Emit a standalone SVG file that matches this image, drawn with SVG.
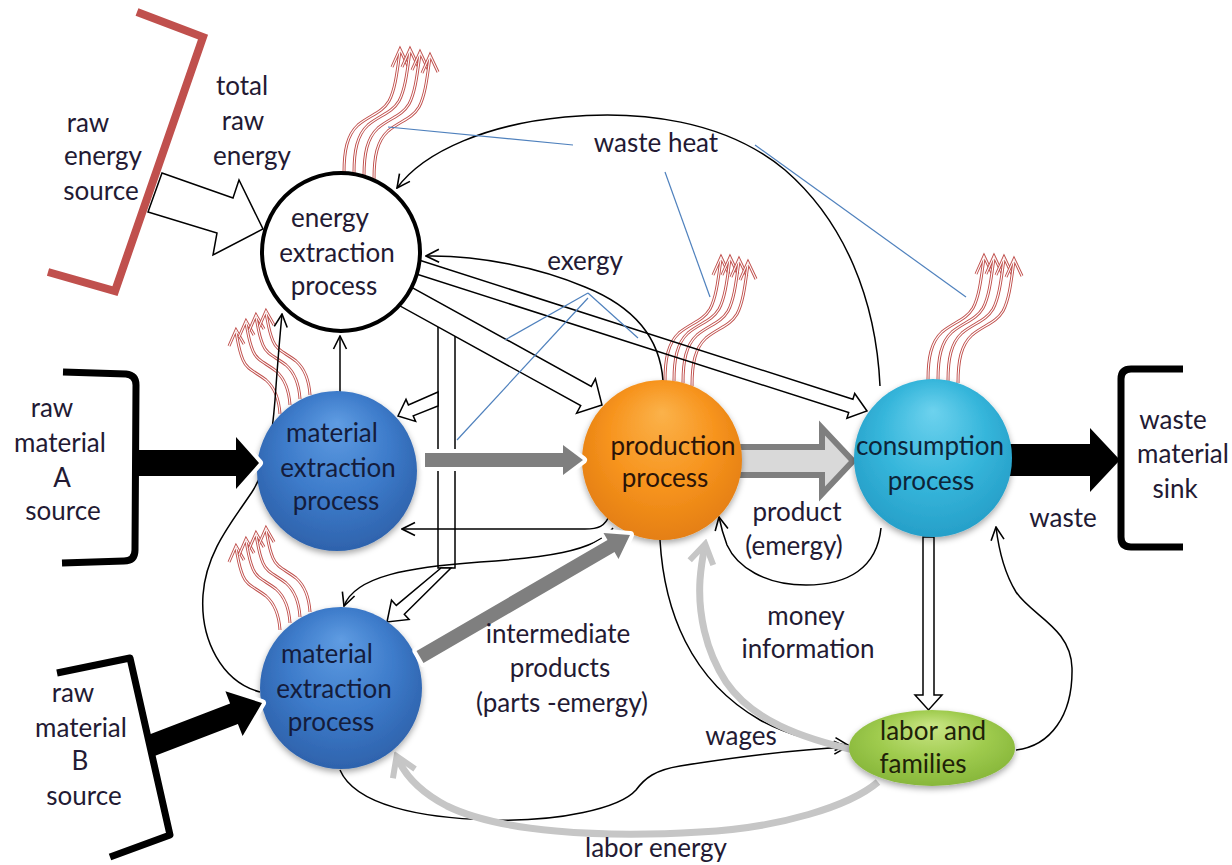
<svg xmlns="http://www.w3.org/2000/svg" width="1232" height="865" viewBox="0 0 1232 865">
<defs>
<style>
.t{font-family:Lato,"Open Sans","Liberation Sans",sans-serif;font-size:26px;fill:#231a33;text-anchor:middle}
.tb{fill:#141c3c}.to{fill:#2b1408}.tc{fill:#0d2438}.tg{fill:#1e2208}
.ln{fill:none;stroke:#000;stroke-width:1.5}
.bl{fill:none;stroke:#4f81bd;stroke-width:1.2}
.ho{fill:none;stroke:#000;stroke-width:1.5;stroke-linejoin:miter}
.wr{fill:none;stroke:#c0504d;stroke-width:3}
.ww{fill:none;stroke:#fff;stroke-width:1.1}
.gc{fill:none;stroke:#c6c6c6;stroke-width:7}
.br{fill:none;stroke:#000;stroke-width:7;stroke-linejoin:round}
.glow{stroke:#fff;stroke-width:8;stroke-linejoin:round;paint-order:stroke}
</style>
<marker id="oa" viewBox="0 0 16 16" refX="15" refY="8" markerWidth="16" markerHeight="16" markerUnits="userSpaceOnUse" orient="auto"><path d="M2,1.5 L15,8 L2,14.5" fill="none" stroke="#000" stroke-width="1.6"/></marker>
<marker id="ga" viewBox="0 0 30 30" refX="24" refY="15" markerWidth="30" markerHeight="30" markerUnits="userSpaceOnUse" orient="auto"><path d="M6,3 L25,15 L6,27" fill="none" stroke="#c6c6c6" stroke-width="6"/></marker>
<radialGradient id="gBlue" cx="0.5" cy="0.45" r="0.6" fx="0.5" fy="0.2"><stop offset="0" stop-color="#5f9ce2"/><stop offset="0.55" stop-color="#3d7bca"/><stop offset="1" stop-color="#2c5fa8"/></radialGradient>
<radialGradient id="gOrange" cx="0.5" cy="0.45" r="0.6" fx="0.5" fy="0.2"><stop offset="0" stop-color="#fbb24a"/><stop offset="0.55" stop-color="#f7941e"/><stop offset="1" stop-color="#e27c10"/></radialGradient>
<radialGradient id="gCyan" cx="0.5" cy="0.45" r="0.6" fx="0.5" fy="0.2"><stop offset="0" stop-color="#6dd2ee"/><stop offset="0.55" stop-color="#36b6db"/><stop offset="1" stop-color="#249cc6"/></radialGradient>
<radialGradient id="gGreen" cx="0.5" cy="0.45" r="0.6" fx="0.5" fy="0.2"><stop offset="0" stop-color="#c9e585"/><stop offset="0.55" stop-color="#9fcb4e"/><stop offset="1" stop-color="#84b438"/></radialGradient>
<filter id="sh" x="-20%" y="-20%" width="140%" height="150%"><feDropShadow dx="0" dy="3" stdDeviation="3" flood-color="#000" flood-opacity="0.35"/></filter>
<path id="pR" d="M0,0 C0,-22 3,-38 14,-48 C26,-58 38,-60 45,-72 C51,-83 53,-100 56,-122 M48,-106 L56,-124 L64,-107"/>
<path id="pL" d="M0,0 C-1,-15 -5,-26 -14,-34 C-24,-42 -33,-44 -37,-54 C-41,-63 -42,-72 -44,-82 M-51,-68 L-44,-84 L-36,-70"/>
<g id="wR"><use href="#pR" class="wr"/><use href="#pR" class="ww"/></g>
<g id="wL"><use href="#pL" class="wr"/><use href="#pL" class="ww"/></g>
</defs>
<rect width="1232" height="865" fill="#fff"/>

<g id="waste-heat">
<use href="#wR" transform="translate(344,173)"/><use href="#wR" transform="translate(354,173)"/><use href="#wR" transform="translate(364,176)"/><use href="#wR" transform="translate(374,179)"/>
<use href="#wR" transform="translate(665,381)"/><use href="#wR" transform="translate(674,381)"/><use href="#wR" transform="translate(683,383)"/><use href="#wR" transform="translate(692,386)"/>
<use href="#wR" transform="translate(928,380)"/><use href="#wR" transform="translate(938,380)"/><use href="#wR" transform="translate(948,381)"/><use href="#wR" transform="translate(958,383)"/>
<use href="#wL" transform="translate(280,414)"/><use href="#wL" transform="translate(290,405)"/><use href="#wL" transform="translate(300,399)"/><use href="#wL" transform="translate(310,395)"/>
<use href="#wL" transform="translate(280,630)"/><use href="#wL" transform="translate(290,623)"/><use href="#wL" transform="translate(300,617)"/><use href="#wL" transform="translate(310,612)"/>
</g>

<g id="connectors">
<path class="ln" marker-end="url(#oa)" d="M663,381 C660,335 630,305 585,287 C540,268 480,255 426,256"/>
<path class="ln" marker-end="url(#oa)" d="M880,386 C876,300 845,222 785,170 C725,120 640,110 565,117 C490,124 425,150 397,188"/>
<path class="ln" marker-end="url(#oa)" d="M610,514 C605,527 598,529 585,529 L402,529"/>
<path class="ln" marker-end="url(#oa)" d="M613,528 C596,552 540,558 480,562 C410,567 355,576 344,606"/>
<path class="ln" marker-end="url(#oa)" d="M260,692 C222,682 200,640 203,595 C206,552 232,522 252,492 C270,464 273,425 275,400 C277,372 279,345 282,314"/>
<path class="ln" marker-end="url(#oa)" d="M340,392 L340,336"/>
<path class="ln" marker-end="url(#oa)" d="M660,540 C664,610 690,680 760,720 C792,737 820,743 848,745"/>
<path class="ln" marker-end="url(#oa)" d="M881,528 C877,568 848,585 806,585 C765,585 737,567 727,545 C724,537 721,527 719,517"/>
<path class="ln" marker-end="url(#oa)" d="M1016,750 C1050,746 1073,716 1072,668 C1071,628 1032,616 1016,592 C1005,574 999,552 996,527"/>
<path class="ln" marker-end="url(#oa)" d="M340,770 C355,805 420,818 490,820 C560,822 620,808 636,790 C645,778 655,770 680,766 C730,758 790,750 847,747"/>
<path class="gc" marker-end="url(#ga)" d="M878,782 C850,806 780,828 700,832 C600,838 500,832 447,806 C422,793 405,776 397,757"/>
<path class="gc" marker-end="url(#ga)" d="M858,751 C800,738 752,720 726,682 C705,650 698,612 700,580 C701,566 703,555 705,545"/>
<polygon class="ho" points="398.6,280.1 591.3,386.4 595.4,378.9 602,405 576.6,413.1 580.7,405.6 388,299.3"/>
<polygon class="ho" points="404.1,255.3 852.9,399.2 854.7,393.5 867,411 846.9,418.3 848.7,412.6 399.9,268.7"/>
<path class="ho" d="M438,327 L438,568 L455,568 L455,336"/>
<polygon class="ho" fill="#fff" style="fill:#fff" points="438,392 408.4,404.9 406,399.4 398,416 415.6,421.4 413.2,415.9 438,406"/>
<polygon class="ho" style="fill:#fff" points="441,568 396.3,605.4 391.5,600.2 387,622 409.1,619.4 404.3,614.2 451,568"/>
<polygon class="ho" style="fill:#fff" points="923,537 923,695 915,695 928.5,710 942,695 934,695 934,537"/>
<polygon points="738,447 822,447 822,428 853,461 822,494 822,475 738,475" fill="#d9d9d9" stroke="#7f7f7f" stroke-width="6"/>
<polygon points="1008,444 1090,444 1090,428 1120,460 1090,492 1090,476 1008,476" fill="#000"/>
<line class="bl" x1="388" y1="127" x2="573" y2="145"/>
<line class="bl" x1="665" y1="172" x2="710" y2="297"/>
<line class="bl" x1="755" y1="145" x2="966" y2="297"/>
<line class="bl" x1="588" y1="293" x2="505" y2="340"/>
<line class="bl" x1="588" y1="298" x2="457" y2="440"/>
<line class="bl" x1="588" y1="293" x2="638" y2="338"/>
</g>

<g id="node-energy">
<circle cx="341" cy="252" r="79" fill="#fff" stroke="#000" stroke-width="4"/>
<text class="t" x="330" y="227">energy</text>
<text class="t" x="337" y="262">extraction</text>
<text class="t" x="334" y="295">process</text>
</g>
<g id="node-material-a">
<circle cx="337" cy="471" r="80" fill="url(#gBlue)" filter="url(#sh)"/>
<text class="t tb" x="332" y="442">material</text>
<text class="t tb" x="338" y="477">extraction</text>
<text class="t tb" x="336" y="510">process</text>
</g>
<g id="node-material-b">
<circle cx="341" cy="688" r="81" fill="url(#gBlue)" filter="url(#sh)"/>
<text class="t tb" x="327" y="663">material</text>
<text class="t tb" x="334" y="698">extraction</text>
<text class="t tb" x="331" y="731">process</text>
</g>
<g id="node-production">
<circle cx="662" cy="460" r="80" fill="url(#gOrange)" filter="url(#sh)"/>
<text class="t to" x="673" y="455">production</text>
<text class="t to" x="665" y="487">process</text>
</g>
<g id="node-consumption">
<circle cx="933" cy="458" r="79" fill="url(#gCyan)" filter="url(#sh)"/>
<text class="t tc" x="930" y="455">consumption</text>
<text class="t tc" x="931" y="490">process</text>
</g>
<g id="node-labor">
<ellipse cx="932" cy="748" rx="83" ry="38" fill="url(#gGreen)" filter="url(#sh)"/>
<text class="t tg" x="933" y="740">labor and</text>
<text class="t tg" x="923" y="773">families</text>
</g>

<g id="flow-arrows">
<polygon class="glow" points="425,453 563,453 563,445 583,460 563,475 563,467 425,467" fill="#7f7f7f"/>
<polygon class="glow" points="416.5,651 607.5,540 603.5,533 630,535 618.5,559 614.5,552 423.5,663" fill="#7f7f7f"/>
<polygon class="glow" points="137,450 236,450 236,437 259,463 236,489 236,476 137,476" fill="#000"/>
<polygon class="glow" points="146.1,735.7 230.1,703.4 225.4,691.3 262,703 242.6,736.1 237.9,724 153.9,756.3" fill="#000"/>
<polygon points="162,173 233,198 239,180 263,229 213,255 217,233 148,212" fill="#fff" stroke="#000" stroke-width="1.5"/>
</g>

<g id="sources">
<path d="M137,12 L203,37 L115,291 L48,272" fill="none" stroke="#c0504d" stroke-width="8"/>
<path class="br" d="M63,372 L126,374 Q136,375 136,385 L135,550 Q135,561 124,561 L62,563"/>
<path class="br" d="M57,673 L130,658 L170,835 L110,857"/>
<path class="br" d="M1183,369 L1131,369 Q1121,369 1121,379 L1121,537 Q1121,547 1131,547 L1183,547"/>
</g>

<g id="labels">
<text class="t" x="88" y="132">raw</text>
<text class="t" x="103" y="165">energy</text>
<text class="t" x="101" y="200">source</text>
<text class="t" x="242" y="95">total</text>
<text class="t" x="243" y="130">raw</text>
<text class="t" x="252" y="165">energy</text>
<text class="t" x="52" y="417">raw</text>
<text class="t" x="60" y="452">material</text>
<text class="t" x="62" y="487">A</text>
<text class="t" x="63" y="520">source</text>
<text class="t" x="73" y="702">raw</text>
<text class="t" x="81" y="737">material</text>
<text class="t" x="80" y="770">B</text>
<text class="t" x="84" y="805">source</text>
<text class="t" x="656" y="152">waste heat</text>
<text class="t" x="585" y="270">exergy</text>
<text class="t" x="797" y="521">product</text>
<text class="t" x="794" y="555">(emergy)</text>
<text class="t" x="806" y="625">money</text>
<text class="t" x="808" y="658">information</text>
<text class="t" x="558" y="643">intermediate</text>
<text class="t" x="560" y="677">products</text>
<text class="t" x="562" y="712">(parts -emergy)</text>
<text class="t" x="741" y="745">wages</text>
<text class="t" x="656" y="857">labor energy</text>
<text class="t" x="1063" y="527">waste</text>
<text class="t" x="1173" y="429">waste</text>
<text class="t" x="1183" y="463">material</text>
<text class="t" x="1175" y="498">sink</text>
</g>
</svg>
